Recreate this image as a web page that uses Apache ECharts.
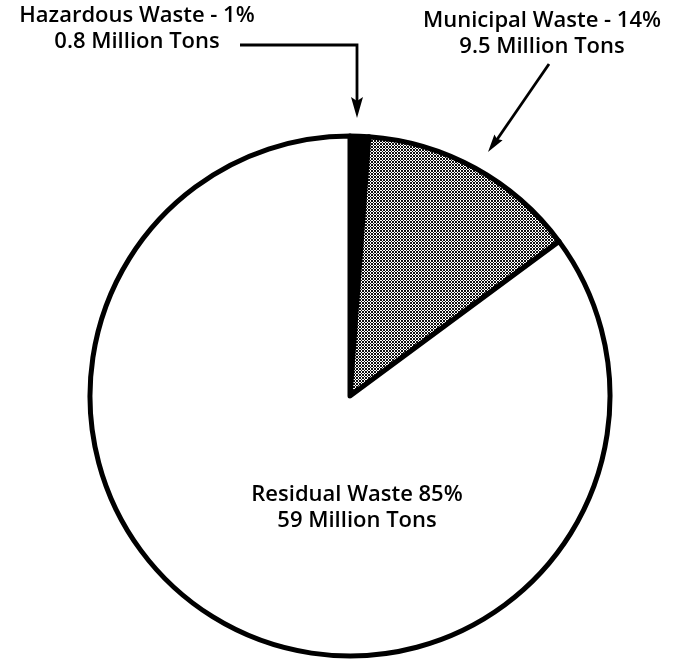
<!DOCTYPE html>
<html>
<head>
<meta charset="utf-8">
<script src="https://cdn.jsdelivr.net/npm/echarts@6/dist/echarts.min.js"></script>
<style>
html,body{margin:0;padding:0;background:#fff;}
#chart{width:685px;height:661px;}
</style>
</head>
<body>
<div id="chart"></div>
<script>
// Data
const categories = ['Hazardous Waste', 'Municipal Waste', 'Residual Waste'];
const tons = [0.8, 9.5, 59];            // million tons
const percents = ['1%', '14%', '85%'];
const labelLines = [
  'Hazardous Waste - 1%\n0.8 Million Tons',
  'Municipal Waste - 14%\n9.5 Million Tons',
  'Residual Waste 85%\n59 Million Tons'
];

// halftone pattern for municipal slice
function halftone() {
  const c = document.createElement('canvas');
  c.width = 3; c.height = 3;
  const g = c.getContext('2d');
  g.fillStyle = '#fff'; g.fillRect(0, 0, 3, 3);
  g.fillStyle = '#111';
  g.fillRect(0, 0, 1, 1); g.fillRect(2, 0, 1, 1);
  g.fillRect(1, 1, 1, 1);
  g.fillRect(0, 2, 1, 1); g.fillRect(2, 2, 1, 1);
  return c;
}
const fills = ['#000', { image: halftone(), repeat: 'repeat' }, '#fff'];

const chart = echarts.init(document.getElementById('chart'), null, { renderer: 'canvas' });
const font = "600 22px 'Open Sans', sans-serif";
const txt = (s, x, y) => ({
  type: 'text', x: x, y: y, z: 100,
  style: { text: s, font: font, lineHeight: 26, fill: '#000', align: 'center', verticalAlign: 'top' }
});

chart.setOption({
  animation: false,
  backgroundColor: '#fff',
  series: [{
    type: 'pie',
    center: [350, 396],
    radius: 260,
    startAngle: 90,
    clockwise: true,
    label: { show: false },
    labelLine: { show: false },
    itemStyle: { borderColor: '#000', borderWidth: 5 },
    data: categories.map((c, i) => ({
      name: c, value: tons[i], itemStyle: { color: fills[i] }
    }))
  }],
  graphic: [
    txt(labelLines[0], 137, 3),
    txt(labelLines[1], 542, 8),
    txt(labelLines[2], 357, 482),
    { type: 'polyline', z: 100, shape: { points: [[240, 45], [357, 45], [357, 104]] }, style: { stroke: '#000', lineWidth: 2.8, fill: null } },
    { type: 'polygon', z: 100, shape: { points: [[351, 97], [357, 101], [363, 97], [357, 118]] }, style: { fill: '#000' } },
    { type: 'line', z: 100, shape: { x1: 549, y1: 64, x2: 496, y2: 141 }, style: { stroke: '#000', lineWidth: 2.8 } },
    { type: 'polygon', z: 100, shape: { points: [[502.6, 140.3], [497, 139], [494.4, 134.5], [488, 152]] }, style: { fill: '#000' } }
  ]
});
</script>
</body>
</html>
